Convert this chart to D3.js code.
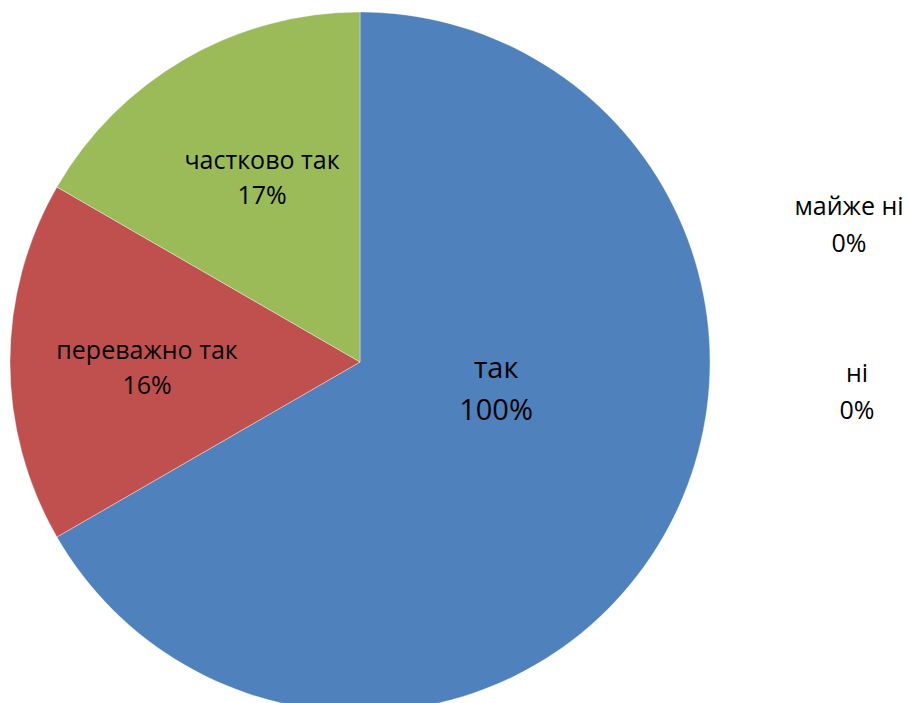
<!DOCTYPE html>
<meta charset="utf-8">
<style>
body { margin: 0; background: #fff; }
.lbl { font-family: "Open Sans", "Noto Sans", sans-serif; fill: #000; }
</style>
<body>
<svg width="908" height="703" id="chart"></svg>
<script src="https://d3js.org/d3.v7.min.js"></script>
<script>

var categories = ["так", "переважно так", "частково так", "майже ні", "ні"];
var shares = [4, 1, 1, 0, 0];
var percentLabels = ["100%", "16%", "17%", "0%", "0%"];
var colours = ["#4F81BD", "#C0504D", "#9BBB59", "#8064A2", "#4BACC6"];

var cx = 360, cy = 362, radius = 350;

// label anchor offsets from the pie centre: [dx, dy, font size, line gap]
var labelOffset = {
  "так": [136, 28, 29, 40],
  "переважно так": [-213, 6, 25, 33],
  "частково так": [-98, -184, 25, 33],
  "майже ні": [489, -137, 25, 35],
  "ні": [497, 30, 25, 35]
};

var data = categories.map(function(c, i) {
  return {name: c, value: shares[i], pct: percentLabels[i], colour: colours[i]};
});

var svg = d3.select("#chart");
var g = svg.append("g").attr("transform", "translate(" + cx + "," + cy + ")");

var pie = d3.pie().sort(null).value(function(d) { return d.value; });
var arc = d3.arc().innerRadius(0).outerRadius(radius);

g.selectAll("path.slice")
    .data(pie(data).filter(function(d) { return d.data.value > 0; }))
  .enter().append("path")
    .attr("class", "slice")
    .attr("d", arc)
    .attr("fill", function(d) { return d.data.colour; })
    .attr("stroke", "#ffffff")
    .attr("stroke-opacity", 0.45)
    .attr("stroke-width", 0.8);

var labels = g.selectAll("text.lbl")
    .data(data)
  .enter().append("text")
    .attr("class", "lbl")
    .attr("text-anchor", "middle")
    .attr("font-size", function(d) { return labelOffset[d.name][2] + "px"; })
    .attr("transform", function(d) {
      var o = labelOffset[d.name];
      return "translate(" + o[0] + "," + o[1] + ")";
    });

labels.append("tspan")
    .attr("x", 0)
    .attr("y", function(d) { var o = labelOffset[d.name]; return -o[3] / 2 + 0.28 * o[2]; })
    .text(function(d) { return d.name; });

labels.append("tspan")
    .attr("x", 0)
    .attr("y", function(d) { var o = labelOffset[d.name]; return o[3] / 2 + 0.36 * o[2]; })
    .text(function(d) { return d.pct; });

</script>
</body>
